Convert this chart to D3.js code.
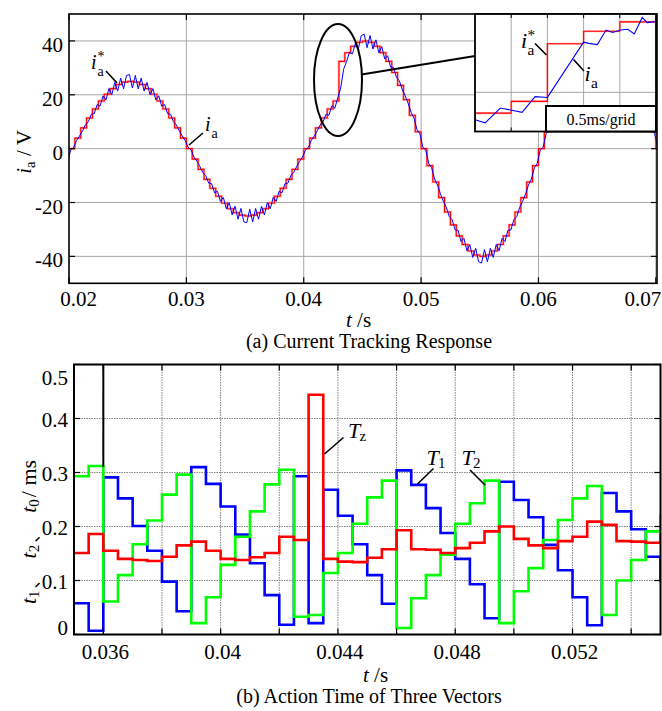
<!DOCTYPE html>
<html><head><meta charset="utf-8">
<script src="https://cdn.jsdelivr.net/npm/d3@7"></script>
<style>
body{margin:0;background:#fff}
svg{display:block}
text{font-family:"Liberation Serif","Times New Roman",serif;fill:#000}
</style></head><body>
<svg id="c" width="662" height="711"></svg>
<script>
// ---------------- DATA ----------------
const topTicksX=[0.02,0.03,0.04,0.05,0.06,0.07];
const topTicksY=[-40,-20,0,20,40];
// reference current ia* (zero-order hold, one value per 0.5 ms from t=0.02)
const refT0=0.02, refDt=0.0005;
const iaRef=[0,3.9,7.7,11.4,14.7,17.7,20.2,22.3,23.8,24.7,25,24.7,23.8,22.3,20.2,17.7,14.7,11.4,7.7,3.9,
0,-3.9,-7.7,-11.4,-14.7,-17.7,-20.2,-22.3,-23.8,-24.7,-25,-24.7,-23.8,-22.3,-20.2,-17.7,-14.7,-11.4,-7.7,-3.9,
0,3.9,7.7,11.4,14.7,17.7,
32.4,35.6,38.0,39.5,40,39.5,38.0,35.6,32.4,28.3,23.5,18.2,12.4,6.3,
0,-6.3,-12.4,-18.2,-23.5,-28.3,-32.4,-35.6,-38.0,-39.5,-40,-39.5,-38.0,-35.6,-32.4,-28.3,-23.5,-18.2,-12.4,-6.3,
0,6.3,12.4,18.2,23.5,28.3,32.4,35.6,38.0,39.5,40,39.5,38.0,35.6,32.4,28.3,23.5,18.2,12.4,6.3,0];
// measured current ia (one value per 0.25 ms from t=0.0199)
const measT0=0.0199, measDt=0.00025;
const iaMeas=[-4.5,
-0.5,0.5, 3.1,4.7, 6.6,8.8, 10.0,12.8, 13.0,16.4, 15.8,19.6, 18.1,22.3, 20.0,24.6, 21.4,26.2, 22.2,27.2,
27.5,22.5, 27.2,22.2, 26.2,21.4, 24.6,20.0, 22.3,18.1, 19.6,15.8, 16.4,13.0, 12.8,10.0, 8.8,6.6, 4.7,3.1,
0.5,-0.5, -3.1,-4.7, -6.6,-8.8, -10.0,-12.8, -13.0,-16.4, -15.8,-19.6, -18.1,-22.3, -20.0,-24.6, -21.4,-26.2, -22.2,-27.2,
-27.5,-22.5, -27.2,-22.2, -26.2,-21.4, -24.6,-20.0, -22.3,-18.1, -19.6,-15.8, -16.4,-13.0, -12.8,-10.0, -8.8,-6.6, -4.7,-3.1,
-0.5,0.5, 3.1,4.7, 6.6,8.8, 10.0,12.8, 12.4,16.0, 15.0,18.9, 22.5,29.5, 32.3,35.8, 35.2,39.0, 37.0,42.0,
42.5,37.5, 42.0,37.0, 40.4,35.6, 37.9,33.3, 34.5,30.3, 30.2,26.4, 25.2,21.8, 19.6,16.8, 13.5,11.3, 7.1,5.5,
0.5,-0.5, -5.5,-7.1, -11.3,-13.5, -16.8,-19.6, -21.8,-25.2, -26.4,-30.2, -30.3,-34.5, -33.3,-37.9, -35.6,-40.4, -37.0,-42.0,
-42.5,-37.5, -42.0,-37.0, -40.4,-35.6, -37.9,-33.3, -34.5,-30.3, -30.2,-26.4, -25.2,-21.8, -19.6,-16.8, -13.5,-11.3, -7.1,-5.5,
-0.5,0.5, 5.5,7.1, 11.3,13.5, 16.8,19.6, 21.8,25.2, 26.4,30.2, 30.3,34.5, 33.3,37.9, 35.6,40.4, 37.0,42.0,
42.5,37.5, 42.0,37.0, 40.4,35.6, 37.9,33.3, 34.5,30.3, 30.2,26.4, 25.2,21.8, 19.6,16.8, 13.5,11.3, 7.1,5.5,
0.5];
// zoomed inset (0.5 ms/grid)
const insetDomainX=[0.042,0.0445], insetDomainY=[10,40];
const insetTicksX=[0.0425,0.043,0.0435,0.044];
const insetTicksY=[20];
const insetMeasT=[0.042,0.04214,0.04235,0.04249,0.04265,0.04283,0.0430,0.0435,0.04357,0.04369,0.04381,0.0439,0.04401,0.04411,0.0442,0.04431,0.04438,0.0445];
const insetMeasV=[13.0,12.2,16.0,15.5,14.9,18.9,18.7,32.8,32.5,32.2,35.9,35.3,35.9,36.1,34.9,39.1,37.8,38.1];
// action times (ms), one value per 0.5 ms from t=0.035
const botTicksX=[0.036,0.038,0.040,0.042,0.044,0.046,0.048,0.050,0.052,0.054];
const botLabelsX=[0.036,0.04,0.044,0.048,0.052];
const botTicksY=[0,0.1,0.2,0.3,0.4,0.5];
const actT0=0.035, actDt=0.0005;
const T1=[0.058,0.007,0.291,0.252,0.201,0.155,0.098,0.043,0.310,0.279,0.237,0.185,0.132,0.073,0.018,0.293,0.021,0.268,0.220,0.167,
0.110,0.057,0.304,0.277,0.234,0.188,0.140,0.093,0.030,0.283,0.249,0.217,0.166,0.119,0.069,0.017,0.262,0.228,0.195,0.144,0.100];
const T2=[0.293,0.312,0.061,0.110,0.167,0.211,0.259,0.296,0.021,0.069,0.129,0.181,0.228,0.278,0.305,0.033,0.036,0.114,0.151,0.205,
0.254,0.285,0.012,0.067,0.110,0.148,0.205,0.243,0.285,0.021,0.080,0.123,0.175,0.212,0.252,0.275,0.036,0.100,0.138,0.191,0.220];
const Tz=[0.151,0.186,0.155,0.140,0.138,0.136,0.144,0.165,0.172,0.155,0.140,0.138,0.143,0.151,0.181,0.175,0.444,0.140,0.135,0.134,
0.142,0.158,0.193,0.158,0.157,0.151,0.160,0.170,0.191,0.200,0.177,0.165,0.160,0.173,0.181,0.209,0.203,0.173,0.172,0.170,0.185];
const markT=0.036, markFrom=0.31, markTo=0.52;

// ---------------- DRAW ----------------
const svg=d3.select('#c');
const CJK='"Noto Sans CJK SC","Noto Sans CJK JP",sans-serif';
function stepData(vals,t0,dt){const d=vals.map((v,i)=>[t0+i*dt,v]);d.push([t0+vals.length*dt,vals[vals.length-1]]);return d;}
const fmt=v=>String(v);

function frameAxes(g,x,y,p,xt,yt,opt){
  g.append('g').selectAll('line').data(xt.filter(v=>x(v)>p.l+1&&x(v)<p.r-1)).join('line')
    .attr('x1',d=>x(d)).attr('x2',d=>x(d)).attr('y1',p.t).attr('y2',p.b)
    .attr('stroke',opt.grid).attr('stroke-width',1).attr('stroke-dasharray',opt.dash||null);
  g.append('g').selectAll('line').data(yt.filter(v=>y(v)<p.b-1&&y(v)>p.t+1)).join('line')
    .attr('y1',d=>y(d)).attr('y2',d=>y(d)).attr('x1',p.l).attr('x2',p.r)
    .attr('stroke',opt.grid).attr('stroke-width',1).attr('stroke-dasharray',opt.dash||null);
}
function ticksBox(g,x,y,p,xt,yt,len,sw){
  const t=g.append('g').attr('stroke','#000').attr('stroke-width',sw);
  xt.forEach(v=>{const X=x(v);
    t.append('line').attr('x1',X).attr('x2',X).attr('y1',p.b).attr('y2',p.b-len);
    t.append('line').attr('x1',X).attr('x2',X).attr('y1',p.t).attr('y2',p.t+len);});
  yt.forEach(v=>{const Y=y(v);
    t.append('line').attr('y1',Y).attr('y2',Y).attr('x1',p.l).attr('x2',p.l+len);
    t.append('line').attr('y1',Y).attr('y2',Y).attr('x1',p.r).attr('x2',p.r-len);});
}

// ===== TOP CHART =====
const tp={l:69,r:657,t:14,b:283.3};
const xT=d3.scaleLinear().domain([0.02,0.0701]).range([tp.l,tp.r]);
const yT=d3.scaleLinear().domain([-50,50]).range([tp.b,tp.t]);
const gT=svg.append('g');
svg.append('clipPath').attr('id','clipT').append('rect').attr('x',tp.l).attr('y',tp.t).attr('width',tp.r-tp.l).attr('height',tp.b-tp.t);
frameAxes(gT,xT,yT,tp,topTicksX,topTicksY,{grid:'#a8a8a8'});
const refLine=d3.line().x(d=>xT(d[0])).y(d=>yT(d[1])).curve(d3.curveStepAfter);
const refD=stepData(iaRef,refT0,refDt);
const measD=iaMeas.map((v,i)=>[measT0+i*measDt,v]);
const cT=gT.append('g').attr('clip-path','url(#clipT)');
cT.append('path').attr('d',refLine(refD)).attr('fill','none').attr('stroke','#ffa8a8').attr('stroke-width',2.4);
cT.append('path').attr('d',refLine(refD)).attr('fill','none').attr('stroke','#ff0000').attr('stroke-width',1.1);
cT.append('path').attr('d',d3.line().x(d=>xT(d[0])).y(d=>yT(d[1]))(measD)).attr('fill','none').attr('stroke','#0000ff').attr('stroke-width',1);
ticksBox(gT,xT,yT,tp,topTicksX,topTicksY,6,1.2);
gT.append('rect').attr('x',tp.l).attr('y',tp.t).attr('width',tp.r-tp.l).attr('height',tp.b-tp.t).attr('fill','none').attr('stroke','#000').attr('stroke-width',1.6);
gT.append('g').selectAll('text').data(topTicksX).join('text')
  .attr('x',(d,i)=>xT(d)+(i===0?9.5:(i===topTicksX.length-1?-13:0))).attr('y',tp.b+23)
  .attr('text-anchor','middle').attr('font-size',21).text(fmt);
gT.append('g').selectAll('text').data(topTicksY).join('text')
  .attr('x',63).attr('y',d=>yT(d)+11).attr('text-anchor','end').attr('font-size',21).text(fmt);
{const t=gT.append('text').attr('x',346).attr('y',327).attr('font-size',21);
 t.append('tspan').attr('font-style','italic').text('t');t.append('tspan').text(' /s');}
{const t=gT.append('text').attr('transform','translate(31,152) rotate(-90)').attr('text-anchor','middle').attr('font-size',21);
 t.append('tspan').attr('font-style','italic').text('i');
 t.append('tspan').attr('font-size',15).attr('dy',4).text('a');
 t.append('tspan').attr('dy',-4).text(' / V');}
gT.append('text').attr('x',369).attr('y',348).attr('text-anchor','middle').attr('font-size',20).text('(a) Current Tracking Response');
function sym(g,x,y,fs,sub,sup,subdx){
  g.append('text').attr('x',x).attr('y',y).attr('font-size',fs).attr('font-style','italic').text('i');
  g.append('text').attr('x',x+subdx).attr('y',y+fs*0.33).attr('font-size',fs*0.7).text(sub);
  if(sup) g.append('text').attr('x',x+subdx).attr('y',y-fs*0.38).attr('font-size',fs*0.7).text(sup);
}
function lead(g,x1,y1,x2,y2,w){g.append('line').attr('x1',x1).attr('y1',y1).attr('x2',x2).attr('y2',y2).attr('stroke','#000').attr('stroke-width',w||1.6);}
sym(gT,91,69,20,'a','*',6.5); lead(gT,106,71,117,83);
sym(gT,205,131,20,'a',null,6.5); lead(gT,203,133,189,145);
gT.append('ellipse').attr('cx',338).attr('cy',80).attr('rx',24).attr('ry',56).attr('fill','none').attr('stroke','#000').attr('stroke-width',2);
lead(gT,361.5,74.5,475,56,2);

// ===== INSET =====
const ip={l:475,r:656,t:14,b:131.5};
const xI=d3.scaleLinear().domain(insetDomainX).range([ip.l,ip.r]);
const yI=d3.scaleLinear().domain(insetDomainY).range([ip.b,ip.t]);
const gI=svg.append('g');
gI.append('rect').attr('x',ip.l).attr('y',ip.t).attr('width',ip.r-ip.l).attr('height',ip.b-ip.t).attr('fill','#fff');
svg.append('clipPath').attr('id','clipI').append('rect').attr('x',ip.l).attr('y',ip.t).attr('width',ip.r-ip.l).attr('height',ip.b-ip.t);
frameAxes(gI,xI,yI,ip,insetTicksX,insetTicksY,{grid:'#a8a8a8'});
const cI=gI.append('g').attr('clip-path','url(#clipI)');
const refLineI=d3.line().x(d=>xI(d[0])).y(d=>yI(d[1])).curve(d3.curveStepAfter);
cI.append('path').attr('d',refLineI(refD)).attr('fill','none').attr('stroke','#ffb0b0').attr('stroke-width',2.2);
cI.append('path').attr('d',refLineI(refD)).attr('fill','none').attr('stroke','#ff0000').attr('stroke-width',1.1);
cI.append('path').attr('d',d3.line().x((d,i)=>xI(insetMeasT[i])).y(d=>yI(d))(insetMeasV)).attr('fill','none').attr('stroke','#0000ff').attr('stroke-width',1.1);
ticksBox(gI,xI,yI,ip,insetTicksX,[],4,1);
gI.append('rect').attr('x',ip.l).attr('y',ip.t).attr('width',ip.r-ip.l).attr('height',ip.b-ip.t).attr('fill','none').attr('stroke','#000').attr('stroke-width',1.8);
sym(gI,521,48,22,'a','*',6.5); lead(gI,535,43.5,546.5,55);
sym(gI,584.5,81,22,'a',null,6.5); lead(gI,573.5,59.5,584,71);
gI.append('rect').attr('x',546).attr('y',106).attr('width',ip.r-546).attr('height',ip.b-106).attr('fill','#fff').attr('stroke','#000').attr('stroke-width',2);
gI.append('text').attr('x',601).attr('y',124.5).attr('text-anchor','middle').attr('font-size',16).text('0.5ms/grid');

// ===== BOTTOM CHART =====
const bp={l:74,r:660.5,t:364.5,b:634.5};
const xB=d3.scaleLinear().domain([0.035,0.055]).range([bp.l,bp.r]);
const yB=d3.scaleLinear().domain([0,0.5]).range([bp.b,bp.t]);
const gB=svg.append('g');
svg.append('clipPath').attr('id','clipB').append('rect').attr('x',bp.l).attr('y',bp.t).attr('width',bp.r-bp.l).attr('height',bp.b-bp.t);
frameAxes(gB,xB,yB,bp,botTicksX,botTicksY,{grid:'#808080',dash:'1.5,1'});
const cB=gB.append('g').attr('clip-path','url(#clipB)');
const stepB=d3.line().x(d=>xB(d[0])).y(d=>yB(d[1])).curve(d3.curveStepAfter);
[[T1,'#0000ff'],[T2,'#00ff00'],[Tz,'#ff0000']].forEach(([vals,col])=>{
  cB.append('path').attr('d',stepB(stepData(vals,actT0,actDt))).attr('fill','none').attr('stroke',col).attr('stroke-width',2.6).attr('stroke-linejoin','miter');
});
cB.append('line').attr('x1',xB(markT)).attr('x2',xB(markT)).attr('y1',yB(markTo)).attr('y2',yB(markFrom)).attr('stroke','#000').attr('stroke-width',2);
ticksBox(gB,xB,yB,bp,botTicksX,botTicksY,6,1.2);
gB.append('rect').attr('x',bp.l).attr('y',bp.t).attr('width',bp.r-bp.l).attr('height',bp.b-bp.t).attr('fill','none').attr('stroke','#000').attr('stroke-width',2);
gB.append('g').selectAll('text').data(botLabelsX).join('text')
  .attr('x',d=>xB(d)+2).attr('y',bp.b+24).attr('text-anchor','middle').attr('font-size',21).text(fmt);
gB.append('g').selectAll('text').data(botTicksY).join('text')
  .attr('x',68).attr('y',(d,i)=>yB(d)+8.5+(i===0?-8:(i===botTicksY.length-1?12:0))).attr('text-anchor','end').attr('font-size',21).text(fmt);
{const t=gB.append('text').attr('x',363).attr('y',682).attr('font-size',21);
 t.append('tspan').attr('font-style','italic').text('t');t.append('tspan').text(' /s');}
{const t=gB.append('text').attr('transform','translate(36,532) rotate(-90)').attr('text-anchor','middle').attr('font-size',22);
 const parts=[['t','1'],['t','2'],['t','0']];
 parts.forEach((p,i)=>{
   t.append('tspan').attr('font-style','italic').attr('dy',i===0?0:-3).attr('dx',i===0?0:12).text(p[0]);
   t.append('tspan').attr('font-size',15).attr('dy',3).text(p[1]);
   if(i<2) t.append('tspan').attr('font-family',CJK).attr('font-size',18).attr('dx',2).text('、');
 });
 t.append('tspan').attr('dy',-3).attr('dx',2).text('/ ms');}
gB.append('text').attr('x',369).attr('y',703).attr('text-anchor','middle').attr('font-size',20).text('(b) Action Time of Three Vectors');
function Tlab(g,x,y,sub){
  g.append('text').attr('x',x).attr('y',y).attr('font-size',22).attr('font-style','italic').text('T');
  g.append('text').attr('x',x+11.5).attr('y',y+3).attr('font-size',15).text(sub);
}
Tlab(gB,348,438,'z'); lead(gB,324.5,454,343.5,437.5);
Tlab(gB,426.5,465,'1'); lead(gB,433.5,468.5,417.5,484);
Tlab(gB,461.5,465,'2'); lead(gB,470,470,485,485);
</script></body></html>
